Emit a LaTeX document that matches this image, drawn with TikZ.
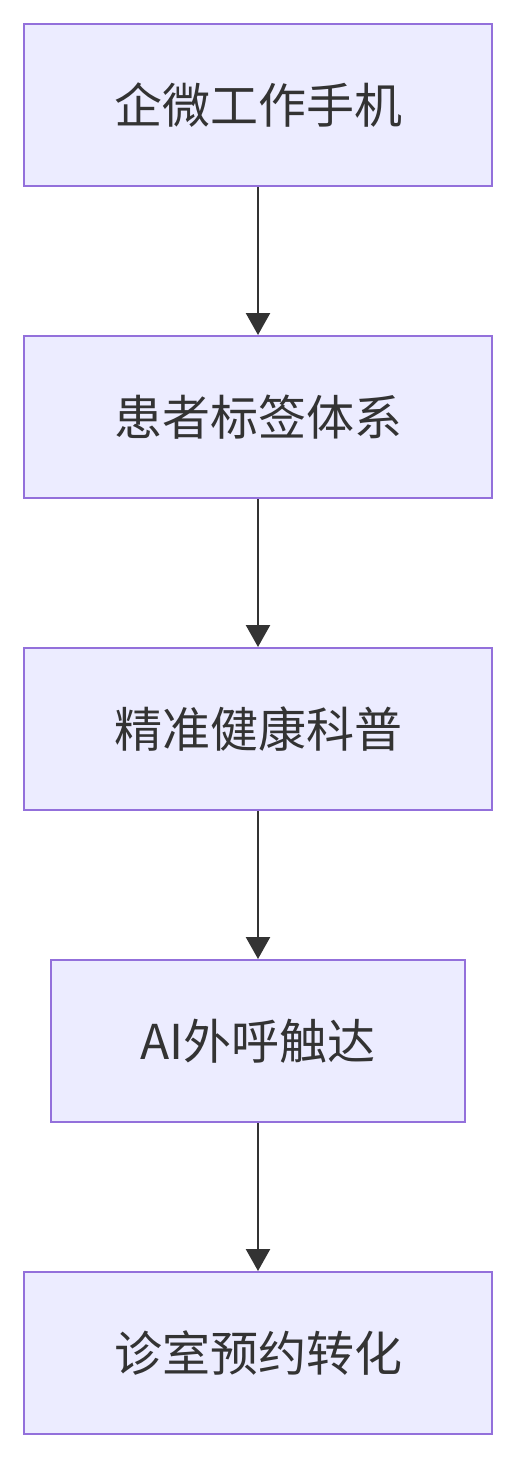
\documentclass[tikz,border=0pt]{standalone}
\usepackage{fontspec}
\newfontfamily\cjk{Noto Sans CJK SC}
\usetikzlibrary{arrows.meta}
\definecolor{boxfill}{HTML}{ECECFF}
\definecolor{boxline}{HTML}{9370DB}
\definecolor{arrline}{HTML}{333333}
\begin{document}
\begin{tikzpicture}[>={Triangle[length=22pt,width=24pt]},x=1pt,y=-1pt,
	step box/.style={draw=boxline,fill=boxfill,line width=2pt,minimum height=162pt,inner sep=0pt,font=\cjk\fontsize{48}{56}\selectfont,text=arrline},
	flow/.style={->,draw=arrline,line width=2.5pt}]
		\useasboundingbox (0,0) rectangle (516,1458);
		\node[step box,minimum width=468pt] (phone) at (258,105) {企微工作手机};
		\node[step box,minimum width=468pt] (tags) at (258,417) {患者标签体系};
		\node[step box,minimum width=468pt] (edu) at (258,729) {精准健康科普};
		\node[step box,minimum width=414pt] (call) at (258,1041) {AI外呼触达};
		\node[step box,minimum width=468pt] (book) at (258,1353) {诊室预约转化};
		\draw[flow] (phone) -- (tags);
		\draw[flow] (tags) -- (edu);
		\draw[flow] (edu) -- (call);
		\draw[flow] (call) -- (book);
\end{tikzpicture}
\end{document}
